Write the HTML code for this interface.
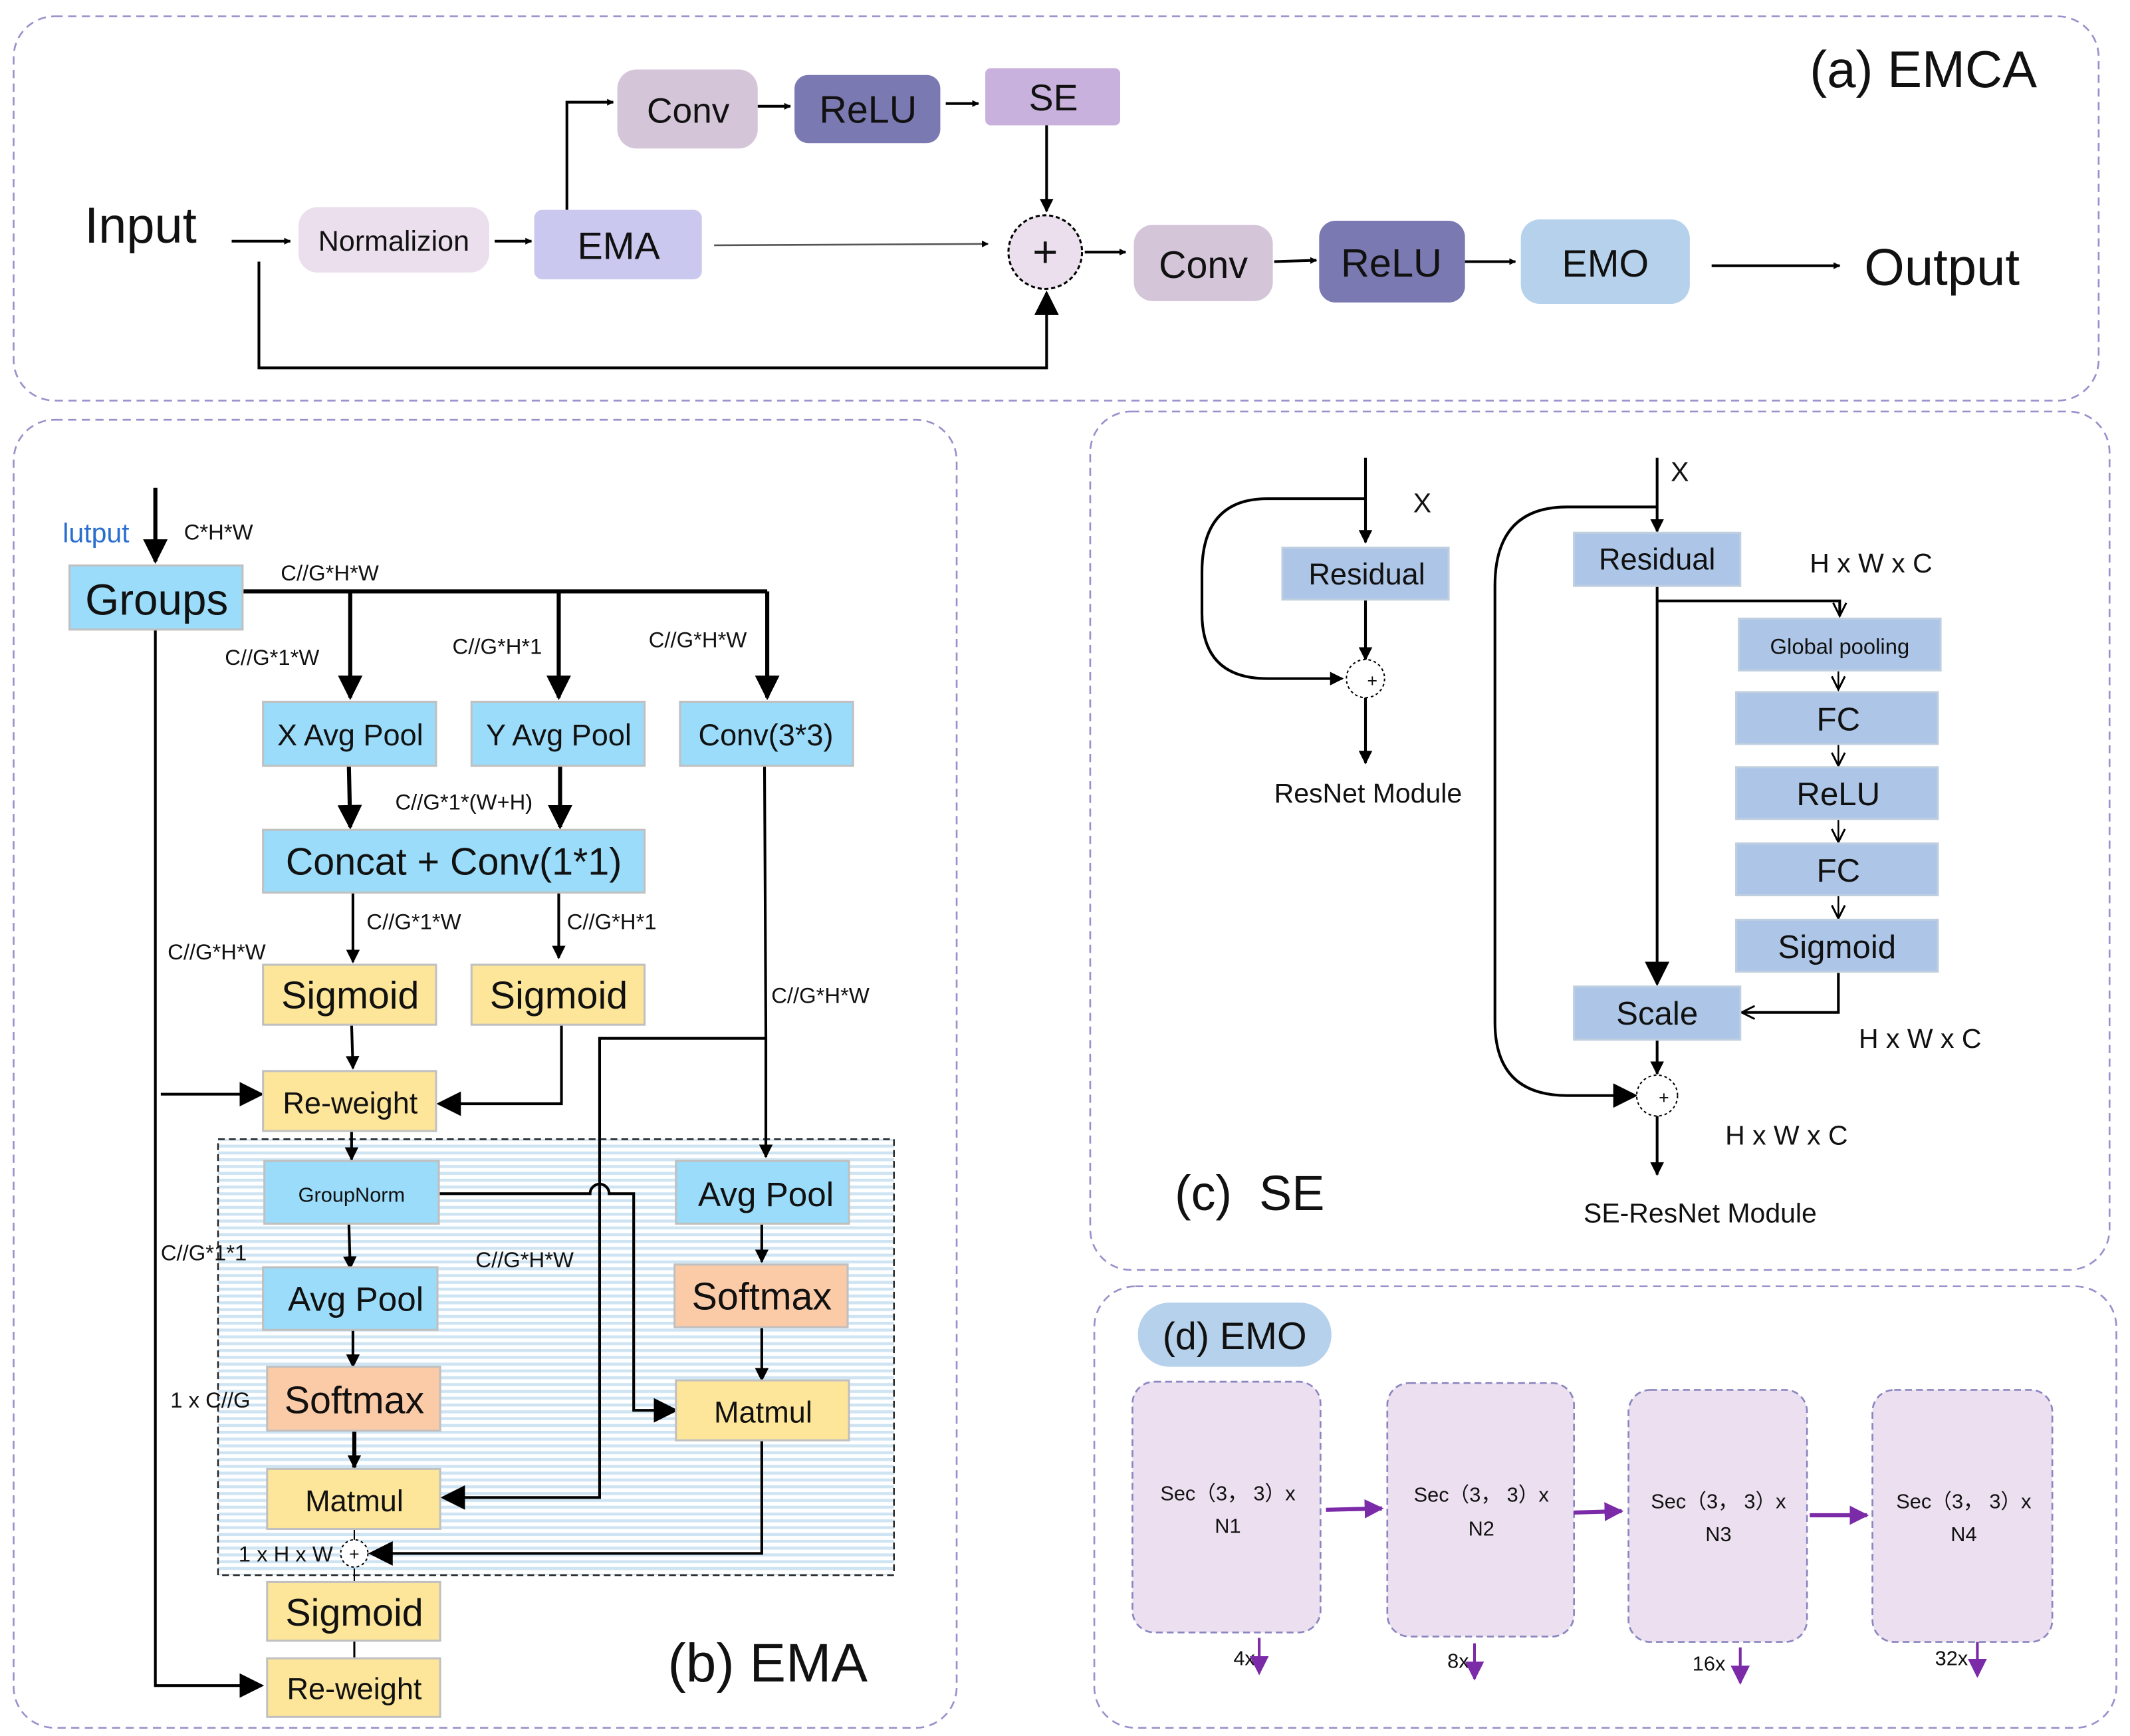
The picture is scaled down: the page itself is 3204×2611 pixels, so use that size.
<!DOCTYPE html>
<html><head><meta charset="utf-8"><style>html,body{margin:0;padding:0;background:#fff}svg{display:block}text{font-family:"Liberation Sans",sans-serif;fill:#111}</style></head><body>
<svg width="3204" height="2611" viewBox="0 0 1563 1274" preserveAspectRatio="none" xmlns="http://www.w3.org/2000/svg">
<defs>
<marker id="a" viewBox="0 0 10 10" refX="9" refY="5" markerWidth="5" markerHeight="5" orient="auto" markerUnits="userSpaceOnUse"><path d="M0,0L10,5L0,10z" fill="#000"/></marker>
<marker id="b" viewBox="0 0 10 10" refX="9" refY="5" markerWidth="10" markerHeight="10" orient="auto" markerUnits="userSpaceOnUse"><path d="M0,0L10,5L0,10z" fill="#000"/></marker>
<marker id="c" viewBox="0 0 10 10" refX="9" refY="5" markerWidth="18" markerHeight="18" orient="auto" markerUnits="userSpaceOnUse"><path d="M0,0L10,5L0,10z" fill="#000"/></marker>
<marker id="o" viewBox="0 0 10 10" refX="9" refY="5" markerWidth="12" markerHeight="12" orient="auto" markerUnits="userSpaceOnUse"><path d="M1,1L9,5L1,9" fill="none" stroke="#000" stroke-width="1.2"/></marker>
<marker id="p" viewBox="0 0 10 10" refX="9" refY="5" markerWidth="14" markerHeight="14" orient="auto" markerUnits="userSpaceOnUse"><path d="M0,0L10,5L0,10z" fill="#7b2aa8"/></marker>
<pattern id="st" width="8" height="5" patternUnits="userSpaceOnUse"><rect width="8" height="5" fill="#fff"/><rect width="8" height="2.2" fill="#cfe4f2"/></pattern>
</defs>
<g fill="none" stroke="#9a90cc" stroke-width="1.3" stroke-dasharray="6,4">
<rect x="10" y="12" width="1530" height="282" rx="30"/>
<rect x="10" y="308" width="692" height="960" rx="30"/>
<rect x="800" y="302" width="748" height="630" rx="30"/>
<rect x="803" y="944" width="750" height="324" rx="30"/>
</g>

<!-- (a) -->
<text x="1328" y="64" font-size="38">(a) EMCA</text>
<text x="62" y="178" font-size="37">Input</text>
<g stroke="#000" stroke-width="2" fill="none">
<line x1="170" y1="177" x2="213" y2="177" marker-end="url(#a)"/>
<line x1="363" y1="177" x2="390" y2="177" marker-end="url(#a)"/>
<polyline points="416,154 416,75 450,75" marker-end="url(#a)"/>
<line x1="556" y1="78" x2="580" y2="78" marker-end="url(#a)"/>
<line x1="694" y1="76" x2="718" y2="76" marker-end="url(#a)"/>
<line x1="768" y1="92" x2="768" y2="155" marker-end="url(#b)"/>
<line x1="524" y1="180" x2="725" y2="179" stroke="#555" stroke-width="1.3" marker-end="url(#a)"/>
<polyline points="190,192 190,270 768,270 768,215" marker-end="url(#c)"/>
<line x1="796" y1="185" x2="826" y2="185" marker-end="url(#a)"/>
<line x1="935" y1="192" x2="966" y2="191" marker-end="url(#a)"/>
<line x1="1075" y1="192" x2="1112" y2="192" marker-end="url(#a)"/>
<line x1="1256" y1="195" x2="1350" y2="195" marker-end="url(#a)"/>
</g>
<rect x="219" y="152" width="140" height="48" rx="14" fill="#ebdfee"/><text x="289" y="184" font-size="21" text-anchor="middle">Normalizion</text>
<rect x="392" y="154" width="123" height="51" rx="6" fill="#cbc8f0"/><text x="454" y="190" font-size="28" text-anchor="middle">EMA</text>
<rect x="453" y="51" width="103" height="58" rx="14" fill="#d5c5d9"/><text x="505" y="90" font-size="26" text-anchor="middle">Conv</text>
<rect x="583" y="55" width="107" height="50" rx="10" fill="#7b79b1"/><text x="637" y="90" font-size="28" text-anchor="middle">ReLU</text>
<rect x="723" y="50" width="99" height="42" rx="4" fill="#c9b1dd"/><text x="773" y="81" font-size="27" text-anchor="middle">SE</text>
<circle cx="767" cy="185" r="27" fill="#ebdfee" stroke="#000" stroke-width="1.5" stroke-dasharray="3,2"/><text x="767" y="196" font-size="32" text-anchor="middle">+</text>
<rect x="832" y="165" width="102" height="56" rx="14" fill="#d5c5d9"/><text x="883" y="204" font-size="28" text-anchor="middle">Conv</text>
<rect x="968" y="162" width="107" height="60" rx="12" fill="#7b79b1"/><text x="1021" y="203" font-size="29" text-anchor="middle">ReLU</text>
<rect x="1116" y="161" width="124" height="62" rx="14" fill="#b5d1ec"/><text x="1178" y="203" font-size="28" text-anchor="middle">EMO</text>
<text x="1368" y="209" font-size="38">Output</text>

<!-- (b) -->
<rect x="160" y="836" width="496" height="320" fill="url(#st)" stroke="#222" stroke-width="1.2" stroke-dasharray="5,3"/>
<g stroke="#000" stroke-width="2" fill="none">
<line x1="114" y1="358" x2="114" y2="412" stroke-width="3" marker-end="url(#c)"/>
<polyline points="178,434 563,434" stroke-width="3"/>
<line x1="257" y1="434" x2="257" y2="512" stroke-width="3" marker-end="url(#c)"/>
<line x1="410" y1="434" x2="410" y2="512" stroke-width="3" marker-end="url(#c)"/>
<line x1="563" y1="434" x2="563" y2="512" stroke-width="3" marker-end="url(#c)"/>
<line x1="256" y1="562" x2="257" y2="607" stroke-width="3" marker-end="url(#c)"/>
<line x1="411" y1="562" x2="411" y2="607" stroke-width="3" marker-end="url(#c)"/>
<line x1="259" y1="655" x2="259" y2="706" marker-end="url(#b)"/>
<line x1="410" y1="655" x2="410" y2="703" marker-end="url(#b)"/>
<line x1="258" y1="752" x2="259" y2="784" marker-end="url(#b)"/>
<polyline points="412,752 412,810 322,810" marker-end="url(#c)"/>
<line x1="118" y1="803" x2="192" y2="803" marker-end="url(#c)"/>
<polyline points="561,562 562,760 562,849" marker-end="url(#b)"/>
<polyline points="562,762 440,762 440,1099 325,1099" marker-end="url(#c)"/>
<line x1="258" y1="830" x2="258" y2="851" marker-end="url(#b)"/>
<path d="M322,876 L433,876 A7,7 0 0 1 447,876 L465,876 L465,1035 L496,1035" marker-end="url(#c)"/>
<line x1="256" y1="898" x2="257" y2="931" marker-end="url(#b)"/>
<line x1="559" y1="898" x2="559" y2="926" marker-end="url(#b)"/>
<line x1="259" y1="975" x2="259" y2="1003" marker-end="url(#b)"/>
<line x1="559" y1="974" x2="559" y2="1013" marker-end="url(#b)"/>
<line x1="260" y1="1050" x2="260" y2="1077" stroke-width="3" marker-end="url(#b)"/>
<polyline points="559,1057 559,1140 272,1140" marker-end="url(#c)"/>
<line x1="260" y1="1122" x2="260" y2="1130" stroke-width="1"/>
<line x1="260" y1="1151" x2="260" y2="1161" stroke-width="1"/>
<line x1="260" y1="1204" x2="260" y2="1217" stroke-width="1.5"/>
<polyline points="114,462 114,1237 192,1237" marker-end="url(#c)"/>
</g>
<circle cx="260" cy="1140" r="10" fill="#fff" stroke="#000" stroke-dasharray="2,2"/><text x="260" y="1145" font-size="13" text-anchor="middle">+</text>
<g stroke="#c0c0c0" stroke-width="1.5">
<rect x="51" y="415" width="127" height="47" fill="#9adcf9"/>
<rect x="193" y="515" width="127" height="47" fill="#9adcf9"/>
<rect x="346" y="515" width="127" height="47" fill="#9adcf9"/>
<rect x="499" y="515" width="127" height="47" fill="#9adcf9"/>
<rect x="193" y="609" width="280" height="46" fill="#9adcf9"/>
<rect x="193" y="708" width="127" height="44" fill="#fde699"/>
<rect x="346" y="708" width="127" height="44" fill="#fde699"/>
<rect x="193" y="786" width="127" height="44" fill="#fde699"/>
<rect x="194" y="852" width="128" height="46" fill="#9adcf9"/>
<rect x="496" y="852" width="127" height="46" fill="#9adcf9"/>
<rect x="193" y="930" width="128" height="46" fill="#9adcf9"/>
<rect x="495" y="928" width="127" height="46" fill="#fbcaa6"/>
<rect x="196" y="1003" width="127" height="47" fill="#fbcaa6"/>
<rect x="496" y="1013" width="127" height="44" fill="#fde699"/>
<rect x="196" y="1078" width="127" height="44" fill="#fde699"/>
<rect x="196" y="1161" width="127" height="43" fill="#fde699"/>
<rect x="196" y="1217" width="127" height="43" fill="#fde699"/>
</g>
<g text-anchor="middle">
<text x="115" y="451" font-size="32">Groups</text>
<text x="257" y="547" font-size="22">X Avg Pool</text>
<text x="410" y="547" font-size="22">Y Avg Pool</text>
<text x="562" y="547" font-size="22">Conv(3*3)</text>
<text x="333" y="642" font-size="28">Concat + Conv(1*1)</text>
<text x="257" y="740" font-size="28">Sigmoid</text>
<text x="410" y="740" font-size="28">Sigmoid</text>
<text x="257" y="817" font-size="22">Re-weight</text>
<text x="258" y="882" font-size="15">GroupNorm</text>
<text x="562" y="885" font-size="25">Avg Pool</text>
<text x="261" y="962" font-size="25">Avg Pool</text>
<text x="559" y="961" font-size="28">Softmax</text>
<text x="260" y="1037" font-size="28">Softmax</text>
<text x="560" y="1044" font-size="22">Matmul</text>
<text x="260" y="1109" font-size="22">Matmul</text>
<text x="260" y="1193" font-size="28">Sigmoid</text>
<text x="260" y="1247" font-size="22">Re-weight</text>
</g>
<g font-size="16">
<text x="46" y="398" style="fill:#2a6fd0" font-size="20">lutput</text>
<text x="135" y="396">C*H*W</text>
<text x="206" y="426">C//G*H*W</text>
<text x="165" y="488">C//G*1*W</text>
<text x="332" y="480">C//G*H*1</text>
<text x="476" y="475">C//G*H*W</text>
<text x="290" y="594">C//G*1*(W+H)</text>
<text x="269" y="682">C//G*1*W</text>
<text x="416" y="682">C//G*H*1</text>
<text x="123" y="704">C//G*H*W</text>
<text x="566" y="736">C//G*H*W</text>
<text x="118" y="925">C//G*1*1</text>
<text x="349" y="930">C//G*H*W</text>
<text x="125" y="1033">1 x C//G</text>
<text x="175" y="1146">1 x H x W</text>
</g>
<text x="490" y="1234" font-size="40">(b) EMA</text>

<!-- (c) -->
<g stroke="#000" stroke-width="2" fill="none">
<line x1="1002" y1="336" x2="1002" y2="398" marker-end="url(#b)"/>
<path d="M1002,366 L930,366 Q882,366 882,420 L882,450 Q882,498 930,498 L985,498" marker-end="url(#b)"/>
<line x1="1002" y1="440" x2="1002" y2="484" marker-end="url(#b)"/>
<line x1="1002" y1="512" x2="1002" y2="560" marker-end="url(#b)"/>
<line x1="1216" y1="336" x2="1216" y2="390" marker-end="url(#b)"/>
<path d="M1216,372 L1150,372 Q1097,372 1097,430 L1097,750 Q1097,804 1150,804 L1200,804" marker-end="url(#c)"/>
<line x1="1216" y1="430" x2="1216" y2="722" marker-end="url(#c)"/>
<polyline points="1216,441 1350,441 1350,452" marker-end="url(#o)"/>
<polyline points="1349,714 1349,743 1278,743" marker-end="url(#o)"/>
<line x1="1216" y1="763" x2="1216" y2="788" marker-end="url(#b)"/>
<line x1="1216" y1="819" x2="1216" y2="862" marker-end="url(#b)"/>
</g>
<g stroke="#000" stroke-width="1.2" fill="none">
<line x1="1349" y1="492" x2="1349" y2="506" marker-end="url(#o)"/>
<line x1="1349" y1="546" x2="1349" y2="562" marker-end="url(#o)"/>
<line x1="1349" y1="601" x2="1349" y2="618" marker-end="url(#o)"/>
<line x1="1349" y1="656" x2="1349" y2="674" marker-end="url(#o)"/>
</g>
<circle cx="1002" cy="498" r="14" fill="#fff" stroke="#000" stroke-dasharray="2,2"/><text x="1007" y="504" font-size="13" text-anchor="middle">+</text>
<circle cx="1216" cy="804" r="15" fill="#fff" stroke="#000" stroke-dasharray="2,2"/><text x="1221" y="810" font-size="13" text-anchor="middle">+</text>
<g fill="#adc6e8" stroke="#bfcfe0" stroke-width="1.5">
<rect x="941" y="402" width="122" height="38"/>
<rect x="1155" y="391" width="122" height="39"/>
<rect x="1276" y="454" width="148" height="38"/>
<rect x="1274" y="508" width="148" height="38"/>
<rect x="1274" y="563" width="148" height="38"/>
<rect x="1274" y="619" width="148" height="38"/>
<rect x="1274" y="675" width="148" height="38"/>
<rect x="1155" y="724" width="122" height="39"/>
</g>
<g text-anchor="middle">
<text x="1003" y="429" font-size="22">Residual</text>
<text x="1216" y="418" font-size="22">Residual</text>
<text x="1350" y="480" font-size="16">Global pooling</text>
<text x="1349" y="536" font-size="24">FC</text>
<text x="1349" y="591" font-size="24">ReLU</text>
<text x="1349" y="647" font-size="24">FC</text>
<text x="1348" y="703" font-size="24">Sigmoid</text>
<text x="1216" y="752" font-size="24">Scale</text>
</g>
<g font-size="20">
<text x="1037" y="376">X</text>
<text x="1226" y="353">X</text>
<text x="935" y="589">ResNet Module</text>
<text x="1328" y="420">H x W x C</text>
<text x="1364" y="769">H x W x C</text>
<text x="1266" y="840">H x W x C</text>
<text x="1162" y="897">SE-ResNet Module</text>
</g>
<text x="862" y="888" font-size="36">(c)&#160; SE</text>

<!-- (d) -->
<rect x="835" y="956" width="142" height="47" rx="23" fill="#b5d1ec"/>
<text x="906" y="990" font-size="28" text-anchor="middle">(d) EMO</text>
<g fill="#ece0f0" stroke="#8a86c0" stroke-width="1.3" stroke-dasharray="5,3">
<rect x="831" y="1014" width="138" height="184" rx="16"/>
<rect x="1018" y="1015" width="137" height="186" rx="16"/>
<rect x="1195" y="1020" width="131" height="185" rx="16"/>
<rect x="1374" y="1020" width="132" height="185" rx="16"/>
</g>
<g font-size="15" text-anchor="middle">
<text x="901" y="1101">Sec（3， 3）x</text><text x="901" y="1125">N1</text>
<text x="1087" y="1102">Sec（3， 3）x</text><text x="1087" y="1127">N2</text>
<text x="1261" y="1107">Sec（3， 3）x</text><text x="1261" y="1131">N3</text>
<text x="1441" y="1107">Sec（3， 3）x</text><text x="1441" y="1131">N4</text>
<text x="913" y="1222">4x</text><text x="1070" y="1224">8x</text><text x="1254" y="1226">16x</text><text x="1432" y="1222">32x</text>
</g>
<g stroke="#7b2aa8" stroke-width="3" fill="none">
<line x1="973" y1="1108" x2="1014" y2="1107" marker-end="url(#p)"/>
<line x1="1155" y1="1110" x2="1190" y2="1109" marker-end="url(#p)"/>
<line x1="1328" y1="1112" x2="1370" y2="1112" marker-end="url(#p)"/>
</g>
<g stroke="#7b2aa8" stroke-width="2" fill="none">
<line x1="924" y1="1202" x2="924" y2="1228" marker-end="url(#p)"/>
<line x1="1082" y1="1206" x2="1082" y2="1232" marker-end="url(#p)"/>
<line x1="1277" y1="1209" x2="1277" y2="1235" marker-end="url(#p)"/>
<line x1="1451" y1="1205" x2="1451" y2="1230" marker-end="url(#p)"/>
</g>
</svg>
</body></html>
